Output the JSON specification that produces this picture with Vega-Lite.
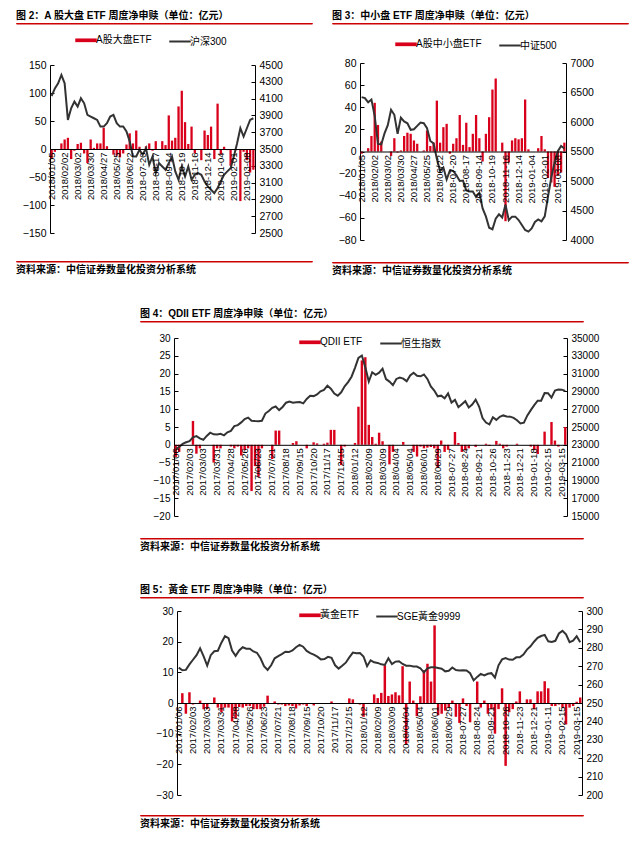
{
"$schema": "https://vega.github.io/schema/vega-lite/v6.json",
"background": "white",
"padding": {"left": 15, "top": 10, "right": 0, "bottom": 0},
"config": {
 "view": {"stroke": null},
 "font": "Liberation Sans, Noto Sans CJK SC",
 "axis": {"labelColor": "#000", "domainColor": "#000", "tickColor": "#000", "grid": false, "labelFont": "Liberation Sans"},
 "title": {"color": "#000", "fontSize": 10, "fontWeight": "bold", "font": "Liberation Sans, Noto Sans CJK SC", "anchor": "start"},
 "legend": {"labelFont": "Liberation Sans, Noto Sans CJK SC", "labelColor": "#000", "labelFontSize": 10, "symbolType": "stroke", "symbolSize": 462, "direction": "horizontal", "orient": "none", "columnPadding": 13, "labelOffset": 5, "padding": 0}
},
"datasets": {
"f2": [
{"d":"2018/01/05","v":-18,"p":4131},{"d":"2018/01/12","v":-5,"p":4222},{"d":"2018/01/19","v":0,"p":4282},{"d":"2018/01/26","v":10,"p":4381},{"d":"2018/02/02","v":17,"p":4282},{"d":"2018/02/09","v":20,"p":3846},{"d":"2018/02/14","v":-18,"p":3985},{"d":"2018/02/23","v":-3,"p":4064},{"d":"2018/03/02","v":9,"p":4005},{"d":"2018/03/09","v":11,"p":4104},
{"d":"2018/03/16","v":-8,"p":4044},{"d":"2018/03/23","v":-25,"p":3906},{"d":"2018/03/30","v":17,"p":3886},{"d":"2018/04/04","v":2,"p":3866},{"d":"2018/04/13","v":10,"p":3846},{"d":"2018/04/20","v":10,"p":3767},{"d":"2018/04/27","v":38,"p":3767},{"d":"2018/05/04","v":5,"p":3807},{"d":"2018/05/11","v":0,"p":3886},{"d":"2018/05/18","v":-10,"p":3906},
{"d":"2018/05/25","v":-12,"p":3807},{"d":"2018/06/01","v":-15,"p":3767},{"d":"2018/06/08","v":-8,"p":3767},{"d":"2018/06/15","v":8,"p":3708},{"d":"2018/06/22","v":28,"p":3589},{"d":"2018/06/29","v":10,"p":3411},{"d":"2018-07-06","v":33,"p":3411},{"d":"2018-07-13","v":4,"p":3490},{"d":"2018-07-20","v":0,"p":3431},{"d":"2018-07-27","v":5,"p":3510},
{"d":"2018-08-03","v":10,"p":3312},{"d":"2018-08-10","v":-3,"p":3411},{"d":"2018-08-17","v":14,"p":3213},{"d":"2018-08-24","v":0,"p":3332},{"d":"2018-08-31","v":14,"p":3292},{"d":"2018-09-07","v":7,"p":3253},{"d":"2018-09-14","v":60,"p":3332},{"d":"2018-09-21","v":15,"p":3411},{"d":"2018-09-28","v":20,"p":3233},{"d":"2018-10-12","v":76,"p":3134},
{"d":"2018-10-19","v":104,"p":3292},{"d":"2018-10-26","v":48,"p":3173},{"d":"2018-11-02","v":9,"p":3292},{"d":"2018-11-09","v":40,"p":3134},{"d":"2018-11-16","v":-8,"p":3193},{"d":"2018-11-23","v":0,"p":3213},{"d":"2018-11-30","v":-20,"p":3193},{"d":"2018-12-07","v":33,"p":3114},{"d":"2018-12-14","v":25,"p":3054},{"d":"2018-12-21","v":40,"p":3015},
{"d":"2018-12-28","v":-18,"p":2975},{"d":"2018-12-31","v":81,"p":3035},{"d":"2019-01-04","v":-10,"p":3114},{"d":"2019-01-11","v":4,"p":3193},{"d":"2019-01-18","v":-2,"p":3233},{"d":"2019-01-25","v":-30,"p":3272},{"d":"2019-02-01","v":-2,"p":3411},{"d":"2019-02-15","v":-2,"p":3569},{"d":"2019-02-22","v":-93,"p":3747},{"d":"2019-03-01","v":-5,"p":3648},
{"d":"2019-03-08","v":-20,"p":3747},{"d":"2019-03-15","v":-42,"p":3846},{"d":"2019-03-22","v":-37,"p":3866}
],
"f3": [
{"d":"2018/01/05","v":-2,"p":6422},{"d":"2018/01/12","v":0,"p":6406},{"d":"2018/01/19","v":3,"p":6333},{"d":"2018/01/26","v":14,"p":6381},{"d":"2018/02/02","v":44,"p":6100},{"d":"2018/02/09","v":24,"p":5628},{"d":"2018/02/14","v":9,"p":5620},{"d":"2018/02/23","v":0,"p":5806},{"d":"2018/03/02","v":0,"p":5945},{"d":"2018/03/09","v":-4,"p":6207},
{"d":"2018/03/16","v":12,"p":6122},{"d":"2018/03/23","v":-1,"p":5800},{"d":"2018/03/30","v":1,"p":6072},{"d":"2018/04/04","v":14,"p":6009},{"d":"2018/04/13","v":17,"p":5978},{"d":"2018/04/20","v":16,"p":5868},{"d":"2018/04/27","v":10,"p":5878},{"d":"2018/05/04","v":7,"p":5935},{"d":"2018/05/11","v":0,"p":5992},{"d":"2018/05/18","v":1,"p":5980},
{"d":"2018/05/25","v":19,"p":5896},{"d":"2018/06/01","v":5,"p":5678},{"d":"2018/06/08","v":8,"p":5638},{"d":"2018/06/15","v":46,"p":5375},{"d":"2018/06/22","v":8,"p":5170},{"d":"2018/06/29","v":22,"p":5230},{"d":"2018-07-06","v":25,"p":5025},{"d":"2018-07-13","v":-2,"p":5180},{"d":"2018-07-20","v":7,"p":5170},{"d":"2018-07-27","v":12,"p":5098},
{"d":"2018-08-03","v":33,"p":5002},{"d":"2018-08-10","v":6,"p":5007},{"d":"2018-08-17","v":26,"p":4840},{"d":"2018-08-24","v":4,"p":4821},{"d":"2018-08-31","v":16,"p":4821},{"d":"2018-09-07","v":33,"p":4730},{"d":"2018-09-14","v":12,"p":4800},{"d":"2018-09-21","v":-9,"p":4536},{"d":"2018-09-28","v":16,"p":4400},{"d":"2018-10-12","v":31,"p":4208},
{"d":"2018-10-19","v":56,"p":4182},{"d":"2018-10-26","v":66,"p":4360},{"d":"2018-11-02","v":0,"p":4435},{"d":"2018-11-09","v":8,"p":4380},{"d":"2018-11-16","v":-63,"p":4600},{"d":"2018-11-23","v":-10,"p":4335},{"d":"2018-11-30","v":10,"p":4396},{"d":"2018-12-07","v":12,"p":4396},{"d":"2018-12-14","v":11,"p":4338},{"d":"2018-12-21","v":12,"p":4253},
{"d":"2018-12-28","v":47,"p":4170},{"d":"2018-12-31","v":2,"p":4142},{"d":"2019-01-04","v":0,"p":4196},{"d":"2019-01-11","v":0,"p":4305},{"d":"2019-01-18","v":3,"p":4348},{"d":"2019-01-25","v":14,"p":4315},{"d":"2019-02-01","v":2,"p":4400},{"d":"2019-02-15","v":-24,"p":4735},{"d":"2019-02-22","v":-28,"p":5060},{"d":"2019-03-01","v":-32,"p":5315},
{"d":"2019-03-08","v":-22,"p":5506},{"d":"2019-03-15","v":-19,"p":5593},{"d":"2019-03-22","v":8,"p":5550}
],
"f4": [
{"d":"2017/01/06","v":-3.4,"p":22550},{"d":"2017/01/13","v":-2,"p":22750},{"d":"2017/01/20","v":0,"p":23100},{"d":"2017/01/26","v":0,"p":23280},{"d":"2017/02/03","v":0,"p":23400},{"d":"2017/02/10","v":6.7,"p":23830},{"d":"2017/02/17","v":-2.5,"p":23980},{"d":"2017/02/24","v":-1,"p":23720},{"d":"2017/03/03","v":0,"p":23563},{"d":"2017/03/10","v":0,"p":24000},
{"d":"2017/03/17","v":0,"p":24360},{"d":"2017/03/24","v":-5,"p":24180},{"d":"2017/03/31","v":-1,"p":24170},{"d":"2017/04/07","v":-1,"p":24230},{"d":"2017/04/14","v":0,"p":24060},{"d":"2017/04/21","v":0,"p":24400},{"d":"2017/04/28","v":-0.5,"p":24560},{"d":"2017/05/05","v":-1,"p":25100},{"d":"2017/05/12","v":-0.5,"p":25210},{"d":"2017/05/19","v":-3,"p":25517},
{"d":"2017/05/26","v":-1.5,"p":25892},{"d":"2017/06/02","v":-1,"p":26060},{"d":"2017/06/09","v":-13,"p":25700},{"d":"2017/06/16","v":-6,"p":25675},{"d":"2017/06/23","v":-9,"p":25660},{"d":"2017/06/30","v":-1,"p":25700},{"d":"2017/07/07","v":0,"p":26510},{"d":"2017/07/14","v":0,"p":26800},{"d":"2017/07/21","v":-4,"p":27150},{"d":"2017/07/28","v":4,"p":27300},
{"d":"2017/08/04","v":4,"p":26900},{"d":"2017/08/11","v":0,"p":27250},{"d":"2017/08/18","v":0,"p":27730},{"d":"2017/08/25","v":0,"p":27860},{"d":"2017/09/01","v":0.5,"p":27730},{"d":"2017/09/08","v":1,"p":27780},{"d":"2017/09/15","v":0,"p":27800},{"d":"2017/09/22","v":0,"p":27660},{"d":"2017/09/29","v":-1,"p":28150},{"d":"2017/10/13","v":0,"p":28500},
{"d":"2017/10/20","v":0.7,"p":28470},{"d":"2017/10/27","v":0.4,"p":28650},{"d":"2017/11/03","v":0,"p":29010},{"d":"2017/11/10","v":0.3,"p":29170},{"d":"2017/11/17","v":0.6,"p":29650},{"d":"2017/11/24","v":4.2,"p":29310},{"d":"2017/12/01","v":4.2,"p":28750},{"d":"2017/12/08","v":0,"p":28521},{"d":"2017/12/15","v":-5.7,"p":28897},{"d":"2017/12/22","v":-0.5,"p":29573},
{"d":"2017/12/29","v":0,"p":30050},{"d":"2018/01/05","v":0,"p":30650},{"d":"2018/01/12","v":0.5,"p":31650},{"d":"2018/01/19","v":10.7,"p":32760},{"d":"2018/01/26","v":23.7,"p":33030},{"d":"2018/02/02","v":24.6,"p":31700},{"d":"2018/02/09","v":5.6,"p":30100},{"d":"2018/02/14","v":2.2,"p":31150},{"d":"2018/02/23","v":0.3,"p":30860},{"d":"2018/03/02","v":3.4,"p":31100},
{"d":"2018/03/09","v":1,"p":31550},{"d":"2018/03/16","v":0,"p":30390},{"d":"2018/03/23","v":-5.5,"p":30100},{"d":"2018/03/30","v":-2,"p":29700},{"d":"2018/04/04","v":0,"p":30400},{"d":"2018/04/13","v":0,"p":30550},{"d":"2018/04/20","v":0.8,"p":30440},{"d":"2018/04/27","v":0,"p":30150},{"d":"2018/05/04","v":0,"p":30800},{"d":"2018/05/11","v":-2,"p":31100},
{"d":"2018/05/18","v":-3.3,"p":30750},{"d":"2018/05/25","v":-0.5,"p":30700},{"d":"2018/06/01","v":-1,"p":30900},{"d":"2018/06/08","v":-0.8,"p":30400},{"d":"2018/06/15","v":-0.6,"p":29550},{"d":"2018/06/22","v":-1,"p":29100},{"d":"2018/06/29","v":-6.5,"p":28450},{"d":"2018-07-06","v":1.2,"p":28520},{"d":"2018-07-13","v":-2,"p":28230},{"d":"2018-07-20","v":-1.4,"p":28780},
{"d":"2018-07-27","v":0,"p":27750},{"d":"2018-08-03","v":3.6,"p":28050},{"d":"2018-08-10","v":0.5,"p":27230},{"d":"2018-08-17","v":-2,"p":27560},{"d":"2018-08-24","v":-1.5,"p":27900},{"d":"2018-08-31","v":-1,"p":27200},{"d":"2018-09-07","v":0,"p":27530},{"d":"2018-09-14","v":-0.6,"p":28080},{"d":"2018-09-21","v":0,"p":27300},{"d":"2018-09-28","v":0,"p":26000},
{"d":"2018-10-12","v":0.3,"p":25500},{"d":"2018-10-19","v":-0.3,"p":25300},{"d":"2018-10-26","v":0,"p":26100},{"d":"2018-11-02","v":1.1,"p":25800},{"d":"2018-11-09","v":0.3,"p":26150},{"d":"2018-11-16","v":-1,"p":26300},{"d":"2018-11-23","v":-0.5,"p":26180},{"d":"2018-11-30","v":0,"p":26160},{"d":"2018-12-07","v":0,"p":26020},{"d":"2018-12-14","v":0.3,"p":25760},
{"d":"2018-12-21","v":0,"p":25400},{"d":"2018-12-28","v":0,"p":25480},{"d":"2019-01-04","v":0,"p":26300},{"d":"2019-01-11","v":-0.5,"p":26900},{"d":"2019-01-18","v":-1.5,"p":27450},{"d":"2019-01-25","v":-2.6,"p":27950},{"d":"2019-02-01","v":0,"p":27950},{"d":"2019-02-03","v":3.7,"p":28820},{"d":"2019-02-15","v":0,"p":28800},{"d":"2019-02-22","v":6.4,"p":28300},
{"d":"2019-03-01","v":1.2,"p":29100},{"d":"2019-03-08","v":-0.5,"p":29200},{"d":"2019-03-15","v":0,"p":29197},{"d":"2019-03-22","v":5,"p":29060}
],
"f5": [
{"d":"2017/01/06","v":0,"p":269.2},{"d":"2017/01/13","v":3.2,"p":267.8},{"d":"2017/01/20","v":-3.5,"p":268.0},{"d":"2017/01/26","v":3.5,"p":271.0},{"d":"2017/02/03","v":-0.5,"p":273.5},{"d":"2017/02/10","v":0,"p":276.0},{"d":"2017/02/17","v":0.8,"p":279.7},{"d":"2017/02/24","v":-2,"p":275.3},{"d":"2017/03/03","v":-2,"p":270.3},{"d":"2017/03/10","v":0,"p":276.0},
{"d":"2017/03/17","v":1.8,"p":278.1},{"d":"2017/03/24","v":-1.5,"p":278.4},{"d":"2017/03/31","v":-3,"p":282.8},{"d":"2017/04/07","v":-1.5,"p":286.3},{"d":"2017/04/14","v":-1.5,"p":285.2},{"d":"2017/04/21","v":-6,"p":278.5},{"d":"2017/04/28","v":-5,"p":275.6},{"d":"2017/05/05","v":-1.3,"p":278.6},{"d":"2017/05/12","v":-1.5,"p":280.3},{"d":"2017/05/19","v":-1,"p":279.5},
{"d":"2017/05/26","v":-1,"p":279.5},{"d":"2017/06/02","v":-2,"p":278.0},{"d":"2017/06/09","v":-2,"p":277.3},{"d":"2017/06/16","v":-2,"p":274.3},{"d":"2017/06/23","v":-1.2,"p":270.0},{"d":"2017/06/30","v":2.4,"p":268.0},{"d":"2017/07/07","v":0,"p":270.5},{"d":"2017/07/14","v":0.5,"p":274.3},{"d":"2017/07/21","v":-0.5,"p":275.5},{"d":"2017/07/28","v":-0.5,"p":276.6},
{"d":"2017/08/04","v":-1,"p":277.9},{"d":"2017/08/11","v":-0.8,"p":277.7},{"d":"2017/08/18","v":-1,"p":278.6},{"d":"2017/08/25","v":-1.8,"p":280.3},{"d":"2017/09/01","v":-0.8,"p":281.6},{"d":"2017/09/08","v":-0.5,"p":280.6},{"d":"2017/09/15","v":-1,"p":278.3},{"d":"2017/09/22","v":0,"p":277.1},{"d":"2017/09/29","v":-0.8,"p":276.3},{"d":"2017/10/13","v":0,"p":275.2},
{"d":"2017/10/20","v":0,"p":273.7},{"d":"2017/10/27","v":0,"p":273.9},{"d":"2017/11/03","v":0,"p":275.1},{"d":"2017/11/10","v":0.5,"p":274.5},{"d":"2017/11/17","v":-0.3,"p":270.5},{"d":"2017/11/24","v":0,"p":268.7},{"d":"2017/12/01","v":0,"p":270.2},{"d":"2017/12/08","v":0,"p":271.9},{"d":"2017/12/15","v":1.5,"p":274.8},{"d":"2017/12/22","v":1.2,"p":277.4},
{"d":"2017/12/29","v":0,"p":277.0},{"d":"2018/01/05","v":-0.5,"p":277.2},{"d":"2018/01/12","v":-4.5,"p":275.3},{"d":"2018/01/19","v":0,"p":270.0},{"d":"2018/01/26","v":0,"p":273.2},{"d":"2018/02/02","v":2.8,"p":272.1},{"d":"2018/02/09","v":1.6,"p":271.8},{"d":"2018/02/14","v":3.3,"p":271.0},{"d":"2018/02/23","v":12.3,"p":270.7},{"d":"2018/03/02","v":2.3,"p":274.3},
{"d":"2018/03/09","v":2.8,"p":271.2},{"d":"2018/03/16","v":3.5,"p":272.5},{"d":"2018/03/23","v":2.5,"p":272.7},{"d":"2018/03/30","v":12,"p":271.2},{"d":"2018/04/04","v":-13.5,"p":270.3},{"d":"2018/04/13","v":7,"p":270.3},{"d":"2018/04/20","v":0.8,"p":269.8},{"d":"2018/04/27","v":-4.3,"p":269.8},{"d":"2018/05/04","v":2.2,"p":268.9},{"d":"2018/05/11","v":10.7,"p":266.6},
{"d":"2018/05/18","v":12.8,"p":268.8},{"d":"2018/05/25","v":7,"p":269.4},{"d":"2018/06/01","v":25.3,"p":269.4},{"d":"2018/06/08","v":-4,"p":269.0},{"d":"2018/06/15","v":-3.5,"p":268.6},{"d":"2018/06/22","v":-2.5,"p":267.2},{"d":"2018/06/29","v":-1.5,"p":267.5},{"d":"2018-07-06","v":0.8,"p":269.3},{"d":"2018-07-13","v":-4.5,"p":267.9},{"d":"2018-07-20","v":-6.5,"p":267.7},
{"d":"2018-07-27","v":1.5,"p":267.8},{"d":"2018-08-03","v":-1,"p":267.7},{"d":"2018-08-10","v":-6.3,"p":266.2},{"d":"2018-08-17","v":0,"p":262.3},{"d":"2018-08-24","v":7,"p":264.2},{"d":"2018-08-31","v":-1.5,"p":265.8},{"d":"2018-09-07","v":0.8,"p":265.0},{"d":"2018-09-14","v":-3.5,"p":265.9},{"d":"2018-09-21","v":-2,"p":266.2},{"d":"2018-09-28","v":-10,"p":263.8},
{"d":"2018-10-12","v":-2,"p":270.5},{"d":"2018-10-19","v":4.8,"p":273.7},{"d":"2018-10-26","v":-20.5,"p":274.4},{"d":"2018-11-02","v":-3,"p":273.6},{"d":"2018-11-09","v":-2,"p":273.5},{"d":"2018-11-16","v":0.5,"p":274.8},{"d":"2018-11-23","v":3.8,"p":274.8},{"d":"2018-11-30","v":0,"p":276.3},{"d":"2018-12-07","v":1.2,"p":279.0},{"d":"2018-12-14","v":1.2,"p":280.8},
{"d":"2018-12-21","v":-2,"p":283.3},{"d":"2018-12-28","v":3.8,"p":285.4},{"d":"2018-12-31","v":3.8,"p":286.4},{"d":"2019-01-04","v":7.1,"p":287.0},{"d":"2019-01-11","v":4.8,"p":283.5},{"d":"2019-01-18","v":-1,"p":283.2},{"d":"2019-01-25","v":-1,"p":283.8},{"d":"2019-02-01","v":-0.5,"p":287.8},{"d":"2019-02-15","v":-1.5,"p":289.2},{"d":"2019-02-22","v":-7,"p":287.3},
{"d":"2019-03-01","v":-1.5,"p":283.1},{"d":"2019-03-08","v":-1,"p":283.9},{"d":"2019-03-15","v":0.4,"p":286.3},{"d":"2019-03-22","v":1.8,"p":283.0}
]
},
"resolve": {"scale": {"color": "independent"}, "legend": {"color": "independent"}},
"concat": [
 {"resolve": {"scale": {"color": "independent"}, "legend": {"color": "independent"}},
  "concat": [
  {"resolve": {"scale": {"color": "independent"}, "legend": {"color": "independent"}},
   "concat": [
   {"resolve": {"scale": {"color": "independent"}, "legend": {"color": "independent"}},
    "concat": [
    {"width": 296, "height": 0.5, "data": {"values": []}, "mark": "point", "view": {"stroke": "#cc0000", "strokeWidth": 1}, "title": {"text": "图 2：A 股大盘 ETF 周度净申赎（单位：亿元）", "offset": 2}},
    {"resolve": {"scale": {"color": "independent"}, "legend": {"color": "independent"}}, "spacing": 0,
     "concat": [
     {"width": 1, "height": 1, "data": {"values": []}, "mark": "point", "view": {"stroke": "transparent"}},
     {"width": 205, "height": 168, "data": {"name": "f2"}, "resolve": {"scale": {"y": "independent"}},
     "layer": [
      {"mark": {"type": "bar", "color": "#d9001b"},
       "encoding": {
        "x": {"field": "d", "type": "ordinal", "sort": null, "scale": {"paddingInner": 0.3, "paddingOuter": 0.15},
              "axis": {"orient": "bottom", "offset": -84, "values": ["2018/01/05","2018/02/02","2018/03/02","2018/03/30","2018/04/27","2018/05/25","2018/06/22","2018-07-20","2018-08-17","2018-09-14","2018-10-19","2018-11-16","2018-12-14","2019-01-04","2019-02-01","2019-03-08"], "labelAngle": -90, "labelFontSize": 9.5, "ticks": false, "labelPadding": 3, "zindex": 1, "title": null}},
        "y": {"field": "v", "type": "quantitative", "scale": {"domain": [-150, 150], "nice": false},
              "axis": {"values": [-150,-100,-50,0,50,100,150], "format": "d", "tickSize": -4, "labelPadding": 8, "labelFontSize": 10.5, "title": null, "minExtent": 32}},
        "color": {"datum": "A股大盘ETF", "type": "nominal", "scale": {"domain": ["A股大盘ETF", "沪深300"], "range": ["#d9001b", "#333333"]},
                  "legend": {"title": null, "legendX": 31, "legendY": -30, "encode": {"symbols": {"update": {"stroke": {"signal": "datum.value === 'A股大盘ETF' ? '#d9001b' : '#333333'"}, "strokeWidth": {"signal": "datum.value === 'A股大盘ETF' ? 3.7 : 2"}}}}}}
       }},
      {"mark": {"type": "line", "strokeWidth": 2},
       "encoding": {
        "x": {"field": "d", "type": "ordinal", "sort": null},
        "y": {"field": "p", "type": "quantitative", "scale": {"domain": [2500, 4500], "nice": false},
              "axis": {"orient": "right", "values": [2500,2700,2900,3100,3300,3500,3700,3900,4100,4300,4500], "format": "d", "tickSize": -4, "labelPadding": 8, "labelFontSize": 10.5, "title": null}},
        "color": {"datum": "沪深300", "type": "nominal"}
       }}
     ]}
    ]}
   ], "columns": 1, "spacing": 11},
   {"width": 296, "height": 0.5, "data": {"values": []}, "mark": "point", "view": {"stroke": "#cc0000", "strokeWidth": 1}, "title": {"text": "资料来源：中信证券数量化投资分析系统", "orient": "bottom", "offset": 3}}
  ], "columns": 1, "spacing": 21},
  {"resolve": {"scale": {"color": "independent"}, "legend": {"color": "independent"}},
   "concat": [
   {"resolve": {"scale": {"color": "independent"}, "legend": {"color": "independent"}},
    "concat": [
    {"width": 296, "height": 0.5, "data": {"values": []}, "mark": "point", "view": {"stroke": "#cc0000", "strokeWidth": 1}, "title": {"text": "图 3：中小盘 ETF 周度净申赎（单位：亿元）", "offset": 2}},
    {"resolve": {"scale": {"color": "independent"}, "legend": {"color": "independent"}}, "spacing": 0,
     "concat": [
     {"width": 1, "height": 1, "data": {"values": []}, "mark": "point", "view": {"stroke": "transparent"}},
     {"width": 206, "height": 177, "data": {"name": "f3"}, "resolve": {"scale": {"y": "independent"}},
     "layer": [
      {"mark": {"type": "bar", "color": "#d9001b"},
       "encoding": {
        "x": {"field": "d", "type": "ordinal", "sort": null, "scale": {"paddingInner": 0.3, "paddingOuter": 0.15},
              "axis": {"orient": "bottom", "offset": -88.5, "values": ["2018/01/05","2018/02/02","2018/03/02","2018/03/30","2018/04/27","2018/05/25","2018/06/22","2018-07-20","2018-08-17","2018-09-14","2018-10-19","2018-11-16","2018-12-14","2019-01-04","2019-02-01","2019-03-08"], "labelAngle": -90, "labelFontSize": 9.5, "ticks": false, "labelPadding": 3, "zindex": 1, "title": null}},
        "y": {"field": "v", "type": "quantitative", "scale": {"domain": [-80, 80], "nice": false},
              "axis": {"values": [-80,-60,-40,-20,0,20,40,60,80], "format": "d", "tickSize": -4, "labelPadding": 8, "labelFontSize": 10.5, "title": null, "minExtent": 26}},
        "color": {"datum": "A股中小盘ETF", "type": "nominal", "scale": {"domain": ["A股中小盘ETF", "中证500"], "range": ["#d9001b", "#333333"]},
                  "legend": {"title": null, "legendX": 41, "legendY": -24, "encode": {"symbols": {"update": {"stroke": {"signal": "datum.value === 'A股中小盘ETF' ? '#d9001b' : '#333333'"}, "strokeWidth": {"signal": "datum.value === 'A股中小盘ETF' ? 3.7 : 2"}}}}}}
       }},
      {"mark": {"type": "line", "strokeWidth": 2},
       "encoding": {
        "x": {"field": "d", "type": "ordinal", "sort": null},
        "y": {"field": "p", "type": "quantitative", "scale": {"domain": [4000, 7000], "nice": false},
              "axis": {"orient": "right", "values": [4000,4500,5000,5500,6000,6500,7000], "format": "d", "tickSize": -4, "labelPadding": 8, "labelFontSize": 10.5, "title": null}},
        "color": {"datum": "中证500", "type": "nominal"}
       }}
     ]}
    ]}
   ], "columns": 1, "spacing": 15},
   {"width": 296, "height": 0.5, "data": {"values": []}, "mark": "point", "view": {"stroke": "#cc0000", "strokeWidth": 1}, "title": {"text": "资料来源：中信证券数量化投资分析系统", "orient": "bottom", "offset": 3}}
  ], "columns": 1, "spacing": 15}
 ], "spacing": 18},
 {"resolve": {"scale": {"color": "independent"}, "legend": {"color": "independent"}}, "spacing": 0,
  "concat": [
  {"width": 122, "height": 1, "data": {"values": []}, "mark": "point", "view": {"stroke": "transparent"}},
  {"resolve": {"scale": {"color": "independent"}, "legend": {"color": "independent"}},
   "concat": [
   {"resolve": {"scale": {"color": "independent"}, "legend": {"color": "independent"}},
    "concat": [
    {"width": 443, "height": 0.5, "data": {"values": []}, "mark": "point", "view": {"stroke": "#cc0000", "strokeWidth": 1}, "title": {"text": "图 4：QDII ETF 周度净申赎（单位：亿元）", "offset": 2}},
    {"resolve": {"scale": {"color": "independent"}, "legend": {"color": "independent"}}, "spacing": 0,
     "concat": [
     {"width": 1, "height": 1, "data": {"values": []}, "mark": "point", "view": {"stroke": "transparent"}},
     {"width": 393, "height": 178, "data": {"name": "f4"}, "resolve": {"scale": {"y": "independent"}},
     "layer": [
      {"mark": {"type": "bar", "color": "#d9001b"},
       "encoding": {
        "x": {"field": "d", "type": "ordinal", "sort": null, "scale": {"paddingInner": 0.3, "paddingOuter": 0.15},
              "axis": {"orient": "bottom", "offset": -71.2, "values": ["2017/01/06","2017/02/03","2017/03/03","2017/03/31","2017/04/28","2017/05/26","2017/06/23","2017/07/21","2017/08/18","2017/09/15","2017/10/20","2017/11/17","2017/12/15","2018/01/12","2018/02/09","2018/03/09","2018/04/04","2018/05/04","2018/06/01","2018/06/29","2018-07-27","2018-08-24","2018-09-21","2018-10-26","2018-11-23","2018-12-21","2019-01-18","2019-02-15","2019-03-15"], "labelAngle": -90, "labelFontSize": 9.5, "ticks": false, "labelPadding": 3, "zindex": 1, "title": null}},
        "y": {"field": "v", "type": "quantitative", "scale": {"domain": [-20, 30], "nice": false},
              "axis": {"values": [-20,-15,-10,-5,0,5,10,15,20,25,30], "format": "d", "tickSize": -4, "labelPadding": 8, "labelFontSize": 10, "title": null, "minExtent": 32}},
        "color": {"datum": "QDII ETF", "type": "nominal", "scale": {"domain": ["QDII ETF", "恒生指数"], "range": ["#d9001b", "#333333"]},
                  "legend": {"title": null, "legendX": 131, "legendY": -1, "encode": {"symbols": {"update": {"stroke": {"signal": "datum.value === 'QDII ETF' ? '#d9001b' : '#333333'"}, "strokeWidth": {"signal": "datum.value === 'QDII ETF' ? 3.7 : 2"}}}}}}
       }},
      {"mark": {"type": "line", "strokeWidth": 2},
       "encoding": {
        "x": {"field": "d", "type": "ordinal", "sort": null},
        "y": {"field": "p", "type": "quantitative", "scale": {"domain": [15000, 35000], "nice": false},
              "axis": {"orient": "right", "values": [15000,17000,19000,21000,23000,25000,27000,29000,31000,33000,35000], "format": "d", "tickSize": -4, "labelPadding": 8, "labelFontSize": 10, "title": null}},
        "color": {"datum": "恒生指数", "type": "nominal"}
       }}
     ]}
    ]}
   ], "columns": 1, "spacing": 11},
   {"width": 443, "height": 0.5, "data": {"values": []}, "mark": "point", "view": {"stroke": "#cc0000", "strokeWidth": 1}, "title": {"text": "资料来源：中信证券数量化投资分析系统", "orient": "bottom", "offset": 3}}
  ], "columns": 1, "spacing": 16}
 ]},
 {"resolve": {"scale": {"color": "independent"}, "legend": {"color": "independent"}}, "spacing": 0,
  "concat": [
  {"width": 122, "height": 1, "data": {"values": []}, "mark": "point", "view": {"stroke": "transparent"}},
  {"resolve": {"scale": {"color": "independent"}, "legend": {"color": "independent"}},
   "concat": [
   {"resolve": {"scale": {"color": "independent"}, "legend": {"color": "independent"}},
    "concat": [
    {"width": 443, "height": 0.5, "data": {"values": []}, "mark": "point", "view": {"stroke": "#cc0000", "strokeWidth": 1}, "title": {"text": "图 5：黃金 ETF 周度净申赎（单位：亿元）", "offset": 2}},
    {"resolve": {"scale": {"color": "independent"}, "legend": {"color": "independent"}}, "spacing": 0,
     "concat": [
     {"width": 1, "height": 1, "data": {"values": []}, "mark": "point", "view": {"stroke": "transparent"}},
     {"width": 405, "height": 184, "data": {"name": "f5"}, "resolve": {"scale": {"y": "independent"}},
     "layer": [
      {"mark": {"type": "bar", "color": "#d9001b"},
       "encoding": {
        "x": {"field": "d", "type": "ordinal", "sort": null, "scale": {"paddingInner": 0.3, "paddingOuter": 0.15},
              "axis": {"orient": "bottom", "offset": -92, "values": ["2017/01/06","2017/02/03","2017/03/03","2017/03/31","2017/04/28","2017/05/26","2017/06/23","2017/07/21","2017/08/18","2017/09/15","2017/10/20","2017/11/17","2017/12/15","2018/01/12","2018/02/09","2018/03/09","2018/04/04","2018/05/04","2018/06/01","2018/06/29","2018-07-27","2018-08-24","2018-09-21","2018-10-26","2018-11-23","2018-12-21","2019-01-11","2019-02-15","2019-03-15"], "labelAngle": -90, "labelFontSize": 9.5, "ticks": false, "labelPadding": 3, "zindex": 1, "title": null}},
        "y": {"field": "v", "type": "quantitative", "scale": {"domain": [-30, 30], "nice": false},
              "axis": {"values": [-30,-20,-10,0,10,20,30], "format": "d", "tickSize": -4, "labelPadding": 8, "labelFontSize": 10, "title": null, "minExtent": 35}},
        "color": {"datum": "黃金ETF", "type": "nominal", "scale": {"domain": ["黃金ETF", "SGE黃金9999"], "range": ["#d9001b", "#333333"]},
                  "legend": {"title": null, "legendX": 128, "legendY": -1, "encode": {"symbols": {"update": {"stroke": {"signal": "datum.value === '黃金ETF' ? '#d9001b' : '#333333'"}, "strokeWidth": {"signal": "datum.value === '黃金ETF' ? 3.7 : 2"}}}}}}
       }},
      {"mark": {"type": "line", "strokeWidth": 2},
       "encoding": {
        "x": {"field": "d", "type": "ordinal", "sort": null},
        "y": {"field": "p", "type": "quantitative", "scale": {"domain": [200, 300], "nice": false},
              "axis": {"orient": "right", "values": [200,210,220,230,240,250,260,270,280,290,300], "format": "d", "tickSize": -4, "labelPadding": 8, "labelFontSize": 10, "title": null}},
        "color": {"datum": "SGE黃金9999", "type": "nominal"}
       }}
     ]}
    ]}
   ], "columns": 1, "spacing": 8},
   {"width": 443, "height": 0.5, "data": {"values": []}, "mark": "point", "view": {"stroke": "#cc0000", "strokeWidth": 1}, "title": {"text": "资料来源：中信证券数量化投资分析系统", "orient": "bottom", "offset": 3}}
  ], "columns": 1, "spacing": 14}
 ]}
],
"columns": 1, "spacing": 32
}
